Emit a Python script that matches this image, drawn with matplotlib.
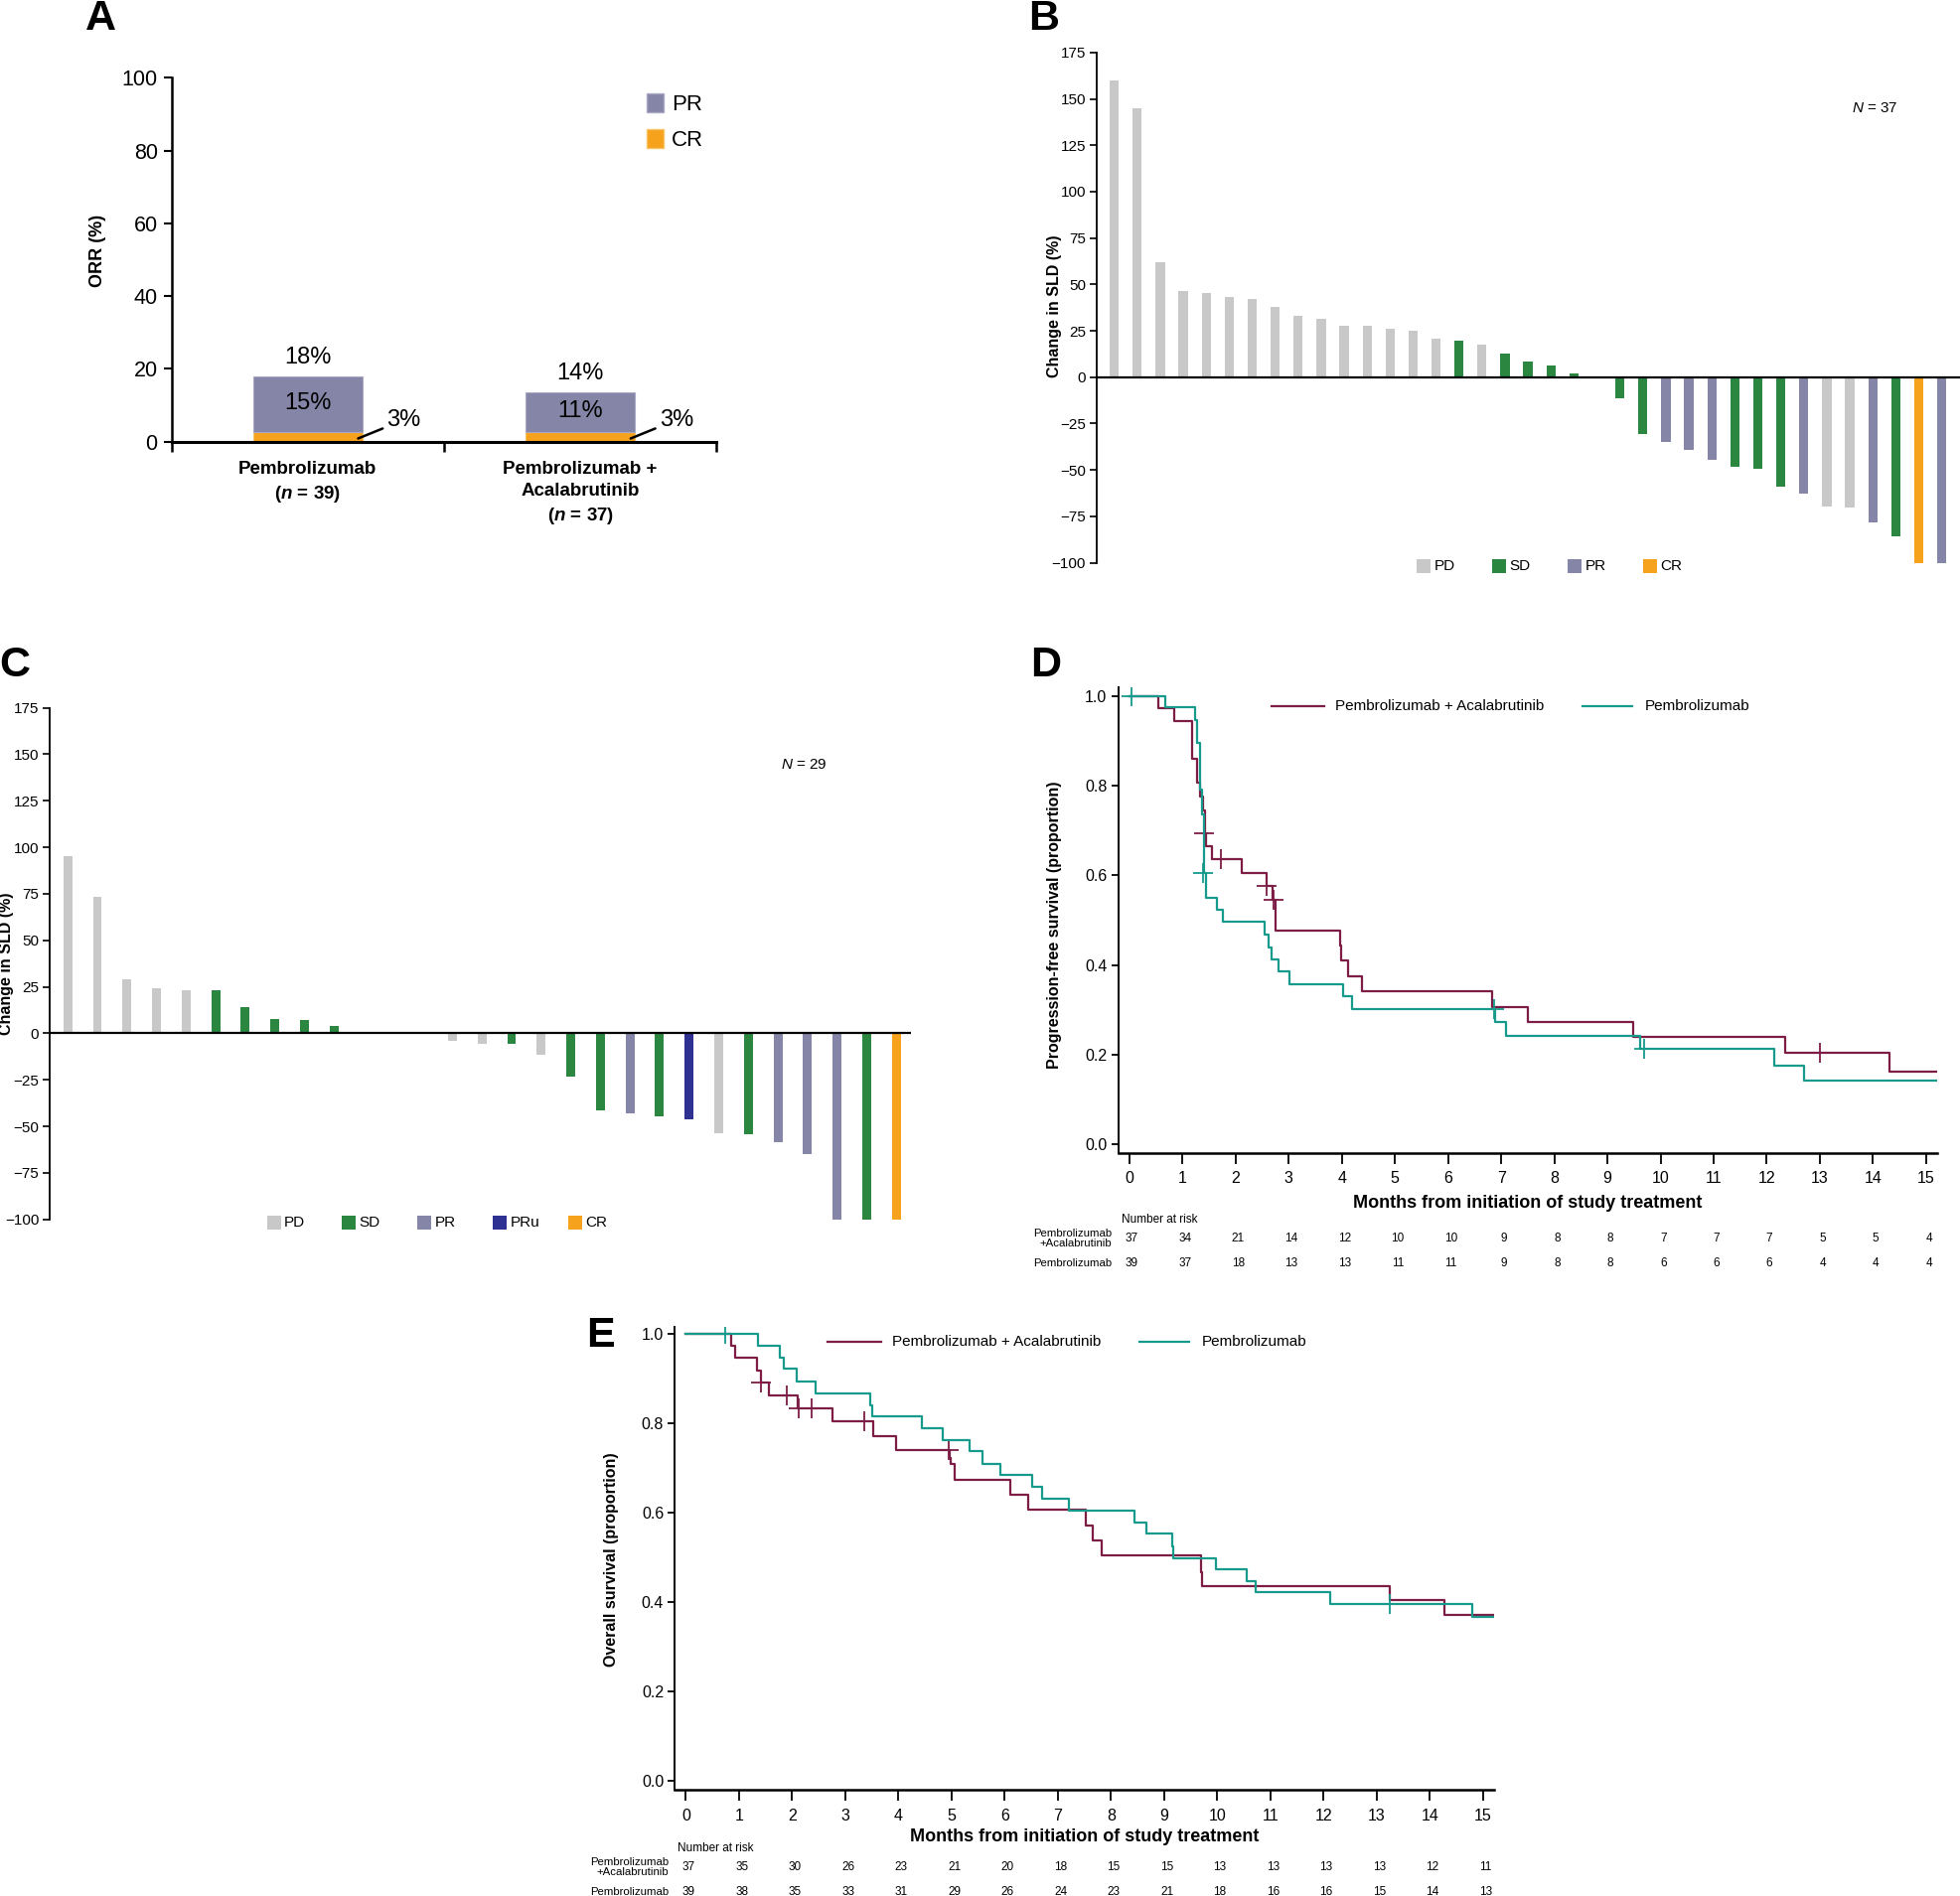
import matplotlib
matplotlib.use("Agg")
import matplotlib.pyplot as plt
from matplotlib import font_manager
from matplotlib.patches import Patch
import numpy as np

names = {f.name for f in font_manager.fontManager.ttflist}
NARROW = "Liberation Sans Narrow" if "Liberation Sans Narrow" in names else "Liberation Sans"
SANS = "Liberation Sans"

plt.rcParams["font.family"] = [NARROW, "DejaVu Sans"]
plt.rcParams["mathtext.fontset"] = "custom"
plt.rcParams["mathtext.it"] = NARROW + ":italic"
plt.rcParams["mathtext.bfit"] = NARROW + ":italic:bold"
plt.rcParams["mathtext.rm"] = NARROW
plt.rcParams["mathtext.bf"] = NARROW + ":bold"

# colours
C_PD = "#c8c8c8"
C_SD = "#2b873f"
C_PR = "#8585a8"
C_PRU = "#2e3192"
C_CR = "#f6a21c"
C_COMBO = "#7d1d45"
C_PEM = "#159a8c"
RESP_COL = {"PD": C_PD, "SD": C_SD, "PR": C_PR, "PRu": C_PRU, "CR": C_CR}

# ---- data ----
# A: objective response rate
orr_groups = ["Pembrolizumab\n($\\mathbfit{n}$ = 39)",
              "Pembrolizumab +\nAcalabrutinib\n($\\mathbfit{n}$ = 37)"]
orr_cr = [2.6, 2.7]
orr_pr = [15.3, 10.8]
orr_total_lbl = ["18%", "14%"]
orr_pr_lbl = ["15%", "11%"]
orr_cr_lbl = ["3%", "3%"]

# B: waterfall, pembrolizumab + acalabrutinib (N = 37)
b_change = [160, 145, 62, 46.5, 45.5, 43.5, 42, 38, 33, 31.5, 27.5, 27.5, 26, 25,
            21, 19.5, 17.5, 12.5, 8.5, 6.5, 2, 0, -11.5, -30.5, -35, -39, -44.5,
            -48.5, -49.5, -59, -63, -69.5, -70, -78.5, -86, -100, -100]
b_resp = ["PD"] * 15 + ["SD", "PD", "SD", "SD", "SD", "SD", "SD", "SD", "SD",
          "PR", "PR", "PR", "SD", "SD", "SD", "PR", "PD", "PD", "PR", "SD", "CR", "PR"]

# C: waterfall, pembrolizumab (N = 29)
c_change = [95, 73.5, 29, 24, 23, 23, 14, 7.5, 7, 4, 0, 0, 0, -4, -5.5, -5.5, -11.5,
            -23.5, -41.5, -43, -44.5, -46.5, -53.5, -54.5, -58.5, -65, -100, -100, -100]
c_resp = ["PD"] * 5 + ["SD"] * 5 + ["PD", "PD", "PD", "PD", "PD", "SD", "PD", "SD",
          "SD", "PR", "SD", "PRu", "PD", "SD", "PR", "PR", "PR", "SD", "CR"]

# D: progression-free survival
pfs_combo_t = [0, 0.54, 0.84, 1.19, 1.28, 1.33, 1.38, 1.42, 1.44, 1.56, 2.12, 2.59,
               2.70, 2.75, 3.96, 3.99, 4.12, 4.38, 6.83, 7.50, 9.48, 12.35, 14.31, 15.2]
pfs_combo_s = [1.0, 0.973, 0.944, 0.861, 0.808, 0.776, 0.745, 0.694, 0.666, 0.636,
               0.606, 0.576, 0.545, 0.476, 0.444, 0.41, 0.374, 0.341, 0.307, 0.273,
               0.239, 0.204, 0.163, 0.163]
pfs_combo_cens_t = [1.40, 1.73, 2.59, 2.71, 13.0]
pfs_combo_cens_s = [0.694, 0.636, 0.576, 0.545, 0.204]
pfs_pem_t = [0, 0.67, 1.23, 1.27, 1.33, 1.37, 1.40, 1.44, 1.65, 1.76, 2.54, 2.62,
             2.68, 2.81, 3.01, 4.02, 4.20, 6.88, 7.10, 9.61, 12.14, 12.71, 15.2]
pfs_pem_s = [1.0, 0.975, 0.947, 0.895, 0.791, 0.737, 0.606, 0.55, 0.523, 0.496,
             0.468, 0.439, 0.413, 0.385, 0.357, 0.33, 0.302, 0.273, 0.242, 0.212,
             0.176, 0.141, 0.141]
pfs_pem_cens_t = [0.05, 1.39, 6.86, 9.69]
pfs_pem_cens_s = [1.0, 0.606, 0.302, 0.212]
pfs_risk_combo = [37, 34, 21, 14, 12, 10, 10, 9, 8, 8, 7, 7, 7, 5, 5, 4]
pfs_risk_pem = [39, 37, 18, 13, 13, 11, 11, 9, 8, 8, 6, 6, 6, 4, 4, 4]

# E: overall survival
os_combo_t = [0, 0.85, 0.92, 1.34, 1.42, 1.56, 2.11, 2.76, 3.53, 3.95, 4.96, 4.99,
              5.05, 6.11, 6.44, 7.53, 7.66, 7.83, 9.69, 9.72, 13.24, 14.27, 15.2]
os_combo_s = [1.0, 0.973, 0.947, 0.918, 0.891, 0.862, 0.834, 0.804, 0.772, 0.74,
              0.722, 0.709, 0.673, 0.64, 0.606, 0.572, 0.539, 0.504, 0.468, 0.436,
              0.404, 0.371, 0.371]
os_combo_cens_t = [1.42, 1.90, 2.12, 2.36, 3.35, 4.95]
os_combo_cens_s = [0.891, 0.862, 0.834, 0.834, 0.804, 0.74]
os_pem_t = [0, 1.35, 1.77, 1.84, 2.09, 2.44, 3.46, 3.50, 4.45, 4.83, 5.34, 5.58,
            5.92, 6.51, 6.71, 7.20, 8.45, 8.66, 9.15, 9.17, 9.97, 10.56, 10.73,
            12.13, 14.80, 15.2]
os_pem_s = [1.0, 0.974, 0.947, 0.922, 0.894, 0.867, 0.84, 0.815, 0.788, 0.763,
            0.737, 0.71, 0.685, 0.658, 0.632, 0.605, 0.579, 0.553, 0.525, 0.499,
            0.473, 0.448, 0.422, 0.395, 0.368, 0.368]
os_pem_cens_t = [0.74, 13.24]
os_pem_cens_s = [1.0, 0.395]
os_risk_combo = [37, 35, 30, 26, 23, 21, 20, 18, 15, 15, 13, 13, 13, 13, 12, 11]
os_risk_pem = [39, 38, 35, 33, 31, 29, 26, 24, 23, 21, 18, 16, 16, 15, 14, 13]

months = list(range(16))

fig = plt.figure(figsize=(19.74, 19.09), dpi=100)


def panel_letter(x, y, s):
    fig.text(x, y, s, fontsize=31, fontweight="bold", family=SANS,
             ha="center", va="center")


def ylabel(ax, x, y, s, size=11.5):
    ax.text(x, y, s, transform=ax.transAxes, rotation=90, ha="center", va="center",
            fontsize=size, fontweight="bold", family=SANS)


# ---- Panel A ----
axA = fig.add_axes([0.0874, 0.767, 0.278, 0.192])
xa = np.arange(len(orr_groups))
axA.bar(xa, orr_cr, width=0.4, color=C_CR, edgecolor="#f9c36a", lw=0.8)
axA.bar(xa, orr_pr, bottom=orr_cr, width=0.4, color=C_PR, edgecolor="#a9a9c4", lw=0.8)
for i in xa:
    tot = orr_cr[i] + orr_pr[i]
    axA.text(i, tot + 5.3, orr_total_lbl[i], ha="center", va="center", fontsize=17)
    axA.text(i, orr_cr[i] + orr_pr[i] / 2 + 0.3, orr_pr_lbl[i], ha="center",
             va="center", fontsize=17)
    axA.annotate(orr_cr_lbl[i], xy=(i + 0.185, 0.9), xytext=(i + 0.29, 6.0),
                 ha="left", va="center", fontsize=17,
                 arrowprops=dict(arrowstyle="-", lw=1.8, color="black",
                                 shrinkA=1, shrinkB=0))
axA.set_xlim(-0.5, 1.5)
axA.set_ylim(0, 100)
axA.set_yticks([0, 20, 40, 60, 80, 100])
axA.tick_params(axis="y", labelsize=15.5, length=6, width=1.5, pad=4)
axA.set_xticks(xa)
axA.set_xticklabels(orr_groups, fontsize=13.5, fontweight="bold", linespacing=1.4)
axA.tick_params(axis="x", length=0, pad=14)
axA.set_xticks([-0.5, 0.5, 1.5], minor=True)
axA.tick_params(axis="x", which="minor", length=7, width=1.8, direction="out")
for sp in ["top", "right"]:
    axA.spines[sp].set_visible(False)
axA.spines["left"].set_linewidth(1.8)
axA.spines["bottom"].set_linewidth(2.2)
axA.legend(handles=[Patch(facecolor=C_PR, edgecolor="#a9a9c4", label="PR"),
                    Patch(facecolor=C_CR, edgecolor="#f9c36a", label="CR")],
           loc="upper left", bbox_to_anchor=(0.855, 0.98), frameon=False,
           fontsize=16, handlelength=0.8, handleheight=0.9, handletextpad=0.35,
           labelspacing=0.62, borderaxespad=0)
ylabel(axA, -0.135, 0.526, "ORR (%)", size=13)
panel_letter(0.0512, 0.990, "A")


def waterfall(rect, values, resp, width, xpad, legend_x0, legend_labels, n_text, n_pos):
    ax = fig.add_axes(rect)
    xs = np.arange(len(values))
    ax.bar(xs, values, width=width, color=[RESP_COL[r] for r in resp], lw=0)
    ax.axhline(0, color="black", lw=1.6, zorder=3)
    ax.set_xlim(-xpad[0], len(values) - 1 + xpad[1])
    ax.set_ylim(-100, 175)
    ax.set_yticks(np.arange(-100, 176, 25))
    ax.set_xticks([])
    for sp in ["top", "right", "bottom"]:
        ax.spines[sp].set_visible(False)
    ax.spines["left"].set_linewidth(1.3)
    ax.tick_params(axis="y", labelsize=11, length=5, width=1.2, pad=3)
    for k, lab in enumerate(legend_labels):
        x = legend_x0 + k * 0.0875
        ax.scatter([x], [-0.006], marker="s", s=95, color=RESP_COL[lab],
                   transform=ax.transAxes, clip_on=False, lw=0)
        ax.text(x + 0.012, -0.006, lab, transform=ax.transAxes, ha="left",
                va="center", fontsize=11)
    ax.text(n_pos[0], n_pos[1], n_text, transform=ax.transAxes, ha="center",
            va="center", fontsize=11)
    return ax


# ---- Panel B ----
axB = waterfall([0.5593, 0.7032, 0.4407, 0.2691], b_change, b_resp, 0.4, (0.76, 0.84),
                0.378, ["PD", "SD", "PR", "CR"], "$\\mathit{N}$ = 37", (0.90, 0.89))
ylabel(axB, -0.049, 0.502, "Change in SLD (%)")
panel_letter(0.5324, 0.990, "B")

# ---- Panel C ----
axC = waterfall([0.0255, 0.3569, 0.4388, 0.2698], c_change, c_resp, 0.3, (0.6, 0.48),
                0.26, ["PD", "SD", "PR", "PRu", "CR"], "$\\mathit{N}$ = 29", (0.876, 0.888))
ylabel(axC, -0.051, 0.50, "Change in SLD (%)")
panel_letter(0.0076, 0.649, "C")


def km_panel(rect, curves, risk_combo, risk_pem, ylab, ylab_pos, leg_y, rows_y,
             ylim_top):
    ax = fig.add_axes(rect)
    for t, s, ct, cs, col in curves:
        ax.step(t, s, where="post", color=col, lw=1.6)
        ax.plot(ct, cs, ls="none", marker="+", ms=14, mew=1.3, color=col)
    ax.set_xlim(-0.21, 15.21)
    ax.set_ylim(-0.02, ylim_top)
    ax.set_xticks(months)
    ax.set_yticks([0.0, 0.2, 0.4, 0.6, 0.8, 1.0])
    ax.set_yticklabels(["0.0", "0.2", "0.4", "0.6", "0.8", "1.0"])
    for sp in ["top", "right"]:
        ax.spines[sp].set_visible(False)
    ax.spines["left"].set_linewidth(1.4)
    ax.spines["bottom"].set_linewidth(1.8)
    ax.tick_params(axis="both", labelsize=11.5, width=1.3)
    ax.tick_params(axis="x", length=8, pad=5)
    ax.tick_params(axis="y", length=5, pad=3)
    # legend
    ax.plot([0.187, 0.252], [leg_y, leg_y], color=C_COMBO, lw=1.6, transform=ax.transAxes)
    ax.text(0.265, leg_y, "Pembrolizumab + Acalabrutinib", transform=ax.transAxes,
            ha="left", va="center", fontsize=11)
    ax.plot([0.567, 0.628], [leg_y, leg_y], color=C_PEM, lw=1.6, transform=ax.transAxes)
    ax.text(0.643, leg_y, "Pembrolizumab", transform=ax.transAxes, ha="left",
            va="center", fontsize=11)
    ylabel(ax, ylab_pos[0], ylab_pos[1], ylab)
    tr = ax.get_xaxis_transform()
    ax.text(7.5, rows_y[0], "Months from initiation of study treatment", transform=tr,
            ha="center", va="center", fontsize=13, fontweight="bold")
    ax.text(-0.15, rows_y[1], "Number at risk", transform=tr, ha="left",
            va="center", fontsize=8.5)
    ax.text(-0.33, rows_y[2], "Pembrolizumab\n+Acalabrutinib", transform=tr,
            ha="right", va="center", fontsize=8.2, linespacing=1.0)
    ax.text(-0.33, rows_y[3], "Pembrolizumab", transform=tr, ha="right",
            va="center", fontsize=8.2)
    for m, a, b in zip(months, risk_combo, risk_pem):
        ax.text(m + 0.05, rows_y[2], str(a), transform=tr, ha="center",
                va="center", fontsize=8.5)
        ax.text(m + 0.05, rows_y[3], str(b), transform=tr, ha="center",
                va="center", fontsize=8.5)
    return ax


# ---- Panel D ----
axD = km_panel([0.5702, 0.3918, 0.4177, 0.2457],
               [(pfs_combo_t, pfs_combo_s, pfs_combo_cens_t, pfs_combo_cens_s, C_COMBO),
                (pfs_pem_t, pfs_pem_s, pfs_pem_cens_t, pfs_pem_cens_s, C_PEM)],
               pfs_risk_combo, pfs_risk_pem, "Progression-free survival (proportion)",
               (-0.078, 0.489), 0.959, (-0.107, -0.142, -0.183, -0.236), 1.02)
panel_letter(0.533, 0.649, "D")

# ---- Panel E ----
axE = km_panel([0.3441, 0.0558, 0.4178, 0.2443],
               [(os_combo_t, os_combo_s, os_combo_cens_t, os_combo_cens_s, C_COMBO),
                (os_pem_t, os_pem_s, os_pem_cens_t, os_pem_cens_s, C_PEM)],
               os_risk_combo, os_risk_pem, "Overall survival (proportion)",
               (-0.077, 0.498), 0.968, (-0.10, -0.126, -0.167, -0.219), 1.015)
panel_letter(0.306, 0.2955, "E")

fig.savefig("out.png", dpi=100)
